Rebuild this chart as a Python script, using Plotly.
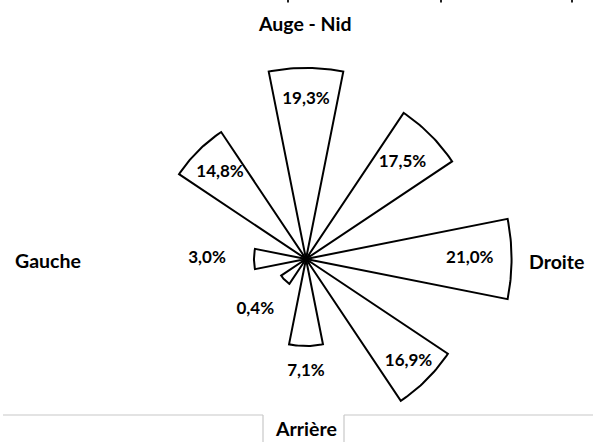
import numpy as np
import plotly.graph_objects as go

# Share of observations by direction (bearing clockwise from the front / trough-nest side)
bearings = [0, 45, 90, 135, 180, 225, 270, 315]
shares = [19.3, 17.5, 21.0, 16.9, 7.1, 0.4, 3.0, 14.8]
value_labels = [f"{v:.1f}".replace(".", ",") + "%" for v in shares]

# Radial spot of each value label, in the same units as the shares
label_radius = [15.55, 12.9, 16.1, 13.9, 10.15, 5.3, 8.5, 11.15]

# Compass captions around the rose
captions = ["Auge - Nid", "Droite", "Arrière", "Gauche"]

W, H = 596, 442
CX, CY = 306, 259          # centre of the rose, pixels from top-left
PX_PER_UNIT = 8.53         # radial scale
R0 = -3.1                  # share value sitting at the centre (keeps tiny petals visible)
PETAL_WIDTH = 22.5         # degrees
FONT = "Lato"


def polar_xy(bearing_deg, share):
    rad = np.radians(bearing_deg)
    r = share - R0
    return r * np.sin(rad), r * np.cos(rad)


fig = go.Figure()

# Rose petals: a wedge per direction, from the centre out to its share
for b, v in zip(bearings, shares):
    arc = np.linspace(b - PETAL_WIDTH / 2, b + PETAL_WIDTH / 2, 25)
    ax, ay = polar_xy(arc, v)
    xs = np.concatenate([[0.0], ax, [0.0]])
    ys = np.concatenate([[0.0], ay, [0.0]])
    fig.add_trace(go.Scatter(
        x=xs, y=ys, mode="lines", fill="toself", fillcolor="white",
        line=dict(color="black", width=2), hoverinfo="skip",
    ))

lx, ly = polar_xy(np.array(bearings, dtype=float), np.array(label_radius))
fig.add_trace(go.Scatter(
    x=lx, y=ly, mode="text", text=value_labels,
    textfont=dict(family=FONT, size=17, color="black", weight="bold"),
    hoverinfo="skip", cliponaxis=False,
))

fig.update_layout(
    width=W, height=H,
    margin=dict(l=0, r=0, t=0, b=0),
    paper_bgcolor="white",
    plot_bgcolor="white",
    showlegend=False,
    xaxis=dict(range=[-CX / PX_PER_UNIT, (W - CX) / PX_PER_UNIT], visible=False, fixedrange=True),
    yaxis=dict(range=[-(H - CY) / PX_PER_UNIT, CY / PX_PER_UNIT], visible=False, fixedrange=True),
)

caption_pos = [(305, 23), (556, 261), (305.5, 428), (47.5, 260)]
for text, (px, py) in zip(captions, caption_pos):
    fig.add_annotation(
        x=px / W, y=1 - py / H, xref="paper", yref="paper",
        text=text, showarrow=False, xanchor="center", yanchor="middle",
        font=dict(family=FONT, size=19.5, color="black", weight="bold"),
    )

# Light frame of the caption box below the rose
frame = [((3, 415), (263, 415)), ((263, 415), (263, 442)),
         ((344, 415), (344, 442)), ((344, 415), (593, 415))]
for (x0, y0), (x1, y1) in frame:
    fig.add_shape(type="line", xref="paper", yref="paper",
                  x0=x0 / W, y0=1 - y0 / H, x1=x1 / W, y1=1 - y1 / H,
                  line=dict(color="#c8c8c8", width=1.2))

# Descender tips of the line of text running above the figure
for tx in (288, 441, 572):
    fig.add_shape(type="rect", xref="paper", yref="paper",
                  x0=(tx - 1) / W, x1=(tx + 1) / W, y0=1 - 2.5 / H, y1=1,
                  line=dict(width=0), fillcolor="#222222")

fig.write_html("out.html")
